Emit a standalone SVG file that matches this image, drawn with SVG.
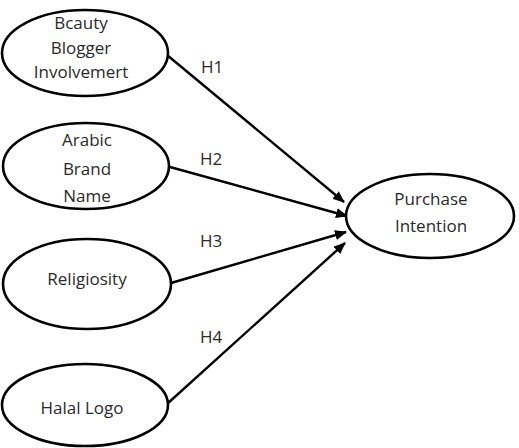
<svg xmlns="http://www.w3.org/2000/svg" width="519" height="448" viewBox="0 0 519 448">
<defs>
<marker id="ah" markerWidth="12" markerHeight="10" refX="11" refY="5" orient="auto" markerUnits="userSpaceOnUse">
<path d="M0,0 L12,5 L0,10 Z" fill="#000"/>
</marker>
<style>
.node ellipse{fill:#fff;stroke:#000;stroke-width:2.6}
.t{font-family:"Open Sans","Liberation Sans",Arial,sans-serif;font-size:17px;fill:#2a2a2a;text-anchor:middle}
.lbl{font-family:"Open Sans","Liberation Sans",Arial,sans-serif;font-size:17px;fill:#2a2a2a}
.edge{stroke:#000;stroke-width:2.4;fill:none;marker-end:url(#ah)}
</style>
</defs>
<rect width="519" height="448" fill="#fff"/>
<g id="connectors">
<line class="edge" x1="167" y1="55" x2="344" y2="202"/>
<line class="edge" x1="170" y1="167" x2="347" y2="216"/>
<line class="edge" x1="171" y1="283" x2="346" y2="232"/>
<line class="edge" x1="167" y1="404" x2="345" y2="243"/>
<text class="lbl" x="201" y="73">H1</text>
<text class="lbl" x="200" y="165">H2</text>
<text class="lbl" x="200" y="247">H3</text>
<text class="lbl" x="200" y="343">H4</text>
</g>
<g id="n1" class="node">
<ellipse cx="85" cy="53" rx="83" ry="43"/>
<text class="t" x="81" y="29">Bcauty</text>
<text class="t" x="81" y="54">Blogger</text>
<text class="t" x="81" y="78">Involvemert</text>
</g>
<g id="n2" class="node">
<ellipse cx="86" cy="166" rx="83" ry="43"/>
<text class="t" x="87" y="146">Arabic</text>
<text class="t" x="87" y="175">Brand</text>
<text class="t" x="87" y="202">Name</text>
</g>
<g id="n3" class="node">
<ellipse cx="87" cy="284" rx="84" ry="45"/>
<text class="t" x="87" y="285">Religiosity</text>
</g>
<g id="n4" class="node">
<ellipse cx="85" cy="405" rx="83" ry="41"/>
<text class="t" x="82" y="414">Halal Logo</text>
</g>
<g id="n5" class="node">
<ellipse cx="430" cy="216" rx="84" ry="42"/>
<text class="t" x="431" y="205">Purchase</text>
<text class="t" x="431" y="232">Intention</text>
</g>
</svg>
